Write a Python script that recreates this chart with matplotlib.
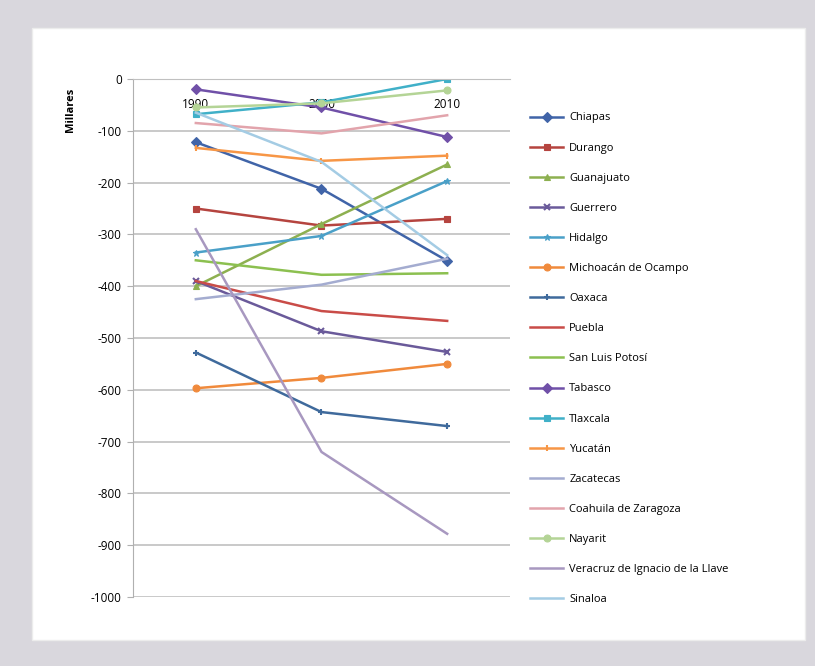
import matplotlib.pyplot as plt
from matplotlib.patches import Rectangle

plt.rcParams['font.family'] = ['Open Sans', 'DejaVu Sans']
plt.rcParams['axes.unicode_minus'] = False

# datos (miles)
anios = ["1990", "2000", "2010"]
estados = ["Chiapas", "Durango", "Guanajuato", "Guerrero", "Hidalgo",
           "Michoacán de Ocampo", "Oaxaca", "Puebla", "San Luis Potosí",
           "Tabasco", "Tlaxcala", "Yucatán", "Zacatecas",
           "Coahuila de Zaragoza", "Nayarit",
           "Veracruz de Ignacio de la Llave", "Sinaloa"]

chiapas = [-122, -212, -351]
durango = [-250, -283, -270]
guanajuato = [-400, -280, -165]
guerrero = [-390, -487, -527]
hidalgo = [-335, -303, -197]
michoacan = [-597, -577, -550]
oaxaca = [-528, -643, -670]
puebla = [-390, -448, -467]
san_luis = [-350, -378, -375]
tabasco = [-20, -55, -112]
tlaxcala = [-68, -45, 0]
yucatan = [-133, -158, -148]
zacatecas = [-425, -397, -347]
coahuila = [-85, -105, -70]
nayarit = [-55, -47, -22]
veracruz = [-290, -720, -878]
sinaloa = [-65, -160, -340]

series = [chiapas, durango, guanajuato, guerrero, hidalgo, michoacan, oaxaca,
          puebla, san_luis, tabasco, tlaxcala, yucatan, zacatecas, coahuila,
          nayarit, veracruz, sinaloa]

colores = ['#4064a8', '#b5443f', '#8db050', '#6a5a9a', '#4aa0c8', '#f08a3c',
           '#3f6a9c', '#c94c48', '#8cc050', '#7050a8', '#40b0c8', '#f79646',
           '#a4acd0', '#e2a4ac', '#b4d496', '#a898c0', '#a4cce4']
marcas = ['D', 's', '^', 'x', '*', 'o', '+', None, None, 'D', 's', '|',
          None, None, 'o', None, None]

fig = plt.figure(figsize=(8.15, 6.66), dpi=100)
fig.patch.set_facecolor('#d9d7dd')
fondo = Rectangle((32 / 815, 1 - 640 / 666), (805 - 32) / 815, (640 - 28) / 666,
                  transform=fig.transFigure, facecolor='white',
                  edgecolor='#ececec', zorder=-10)
fig.add_artist(fondo)

ax = fig.add_axes([133 / 815, 1 - 597 / 666, 377 / 815, 518 / 666])
ax.set_facecolor('none')

x = list(range(len(anios)))
for nombre, valores, c, m in zip(estados, series, colores, marcas):
    ax.plot(x, valores, color=c, lw=1.8, marker=m, markersize=5,
            markeredgewidth=1.5 if m in ('x', '+', '|') else 0.8,
            label=nombre)

ax.set_xlim(-0.5, 2.5)
ax.set_ylim(-1000, 0)
ax.set_yticks(range(-1000, 1, 100))
ax.yaxis.grid(True, color='#c0c0c0', lw=1.2)
ax.set_axisbelow(True)

# eje de categorias en el cero
ax.spines['bottom'].set_position(('data', 0))
ax.spines['bottom'].set_color('#c0c0c0')
ax.spines['left'].set_color('#b0b0b0')
ax.spines['top'].set_visible(False)
ax.spines['right'].set_visible(False)
ax.set_xticks(x)
ax.set_xticklabels(anios)
ax.tick_params(axis='x', length=0, pad=14, labelsize=8.5)
ax.tick_params(axis='y', length=4, color='#b0b0b0', labelsize=8.5, pad=4)

fig.text(70 / 815, 1 - 110 / 666, "Millares", rotation=90, fontsize=8,
         fontweight='bold', ha='center', va='center')

fig.legend(loc='upper left', bbox_to_anchor=(526 / 815, 1 - 108 / 666),
           frameon=False, fontsize=8, handlelength=2.9, handletextpad=0.6,
           labelspacing=1.72, borderaxespad=0)

fig.savefig("out.png", dpi=100)
